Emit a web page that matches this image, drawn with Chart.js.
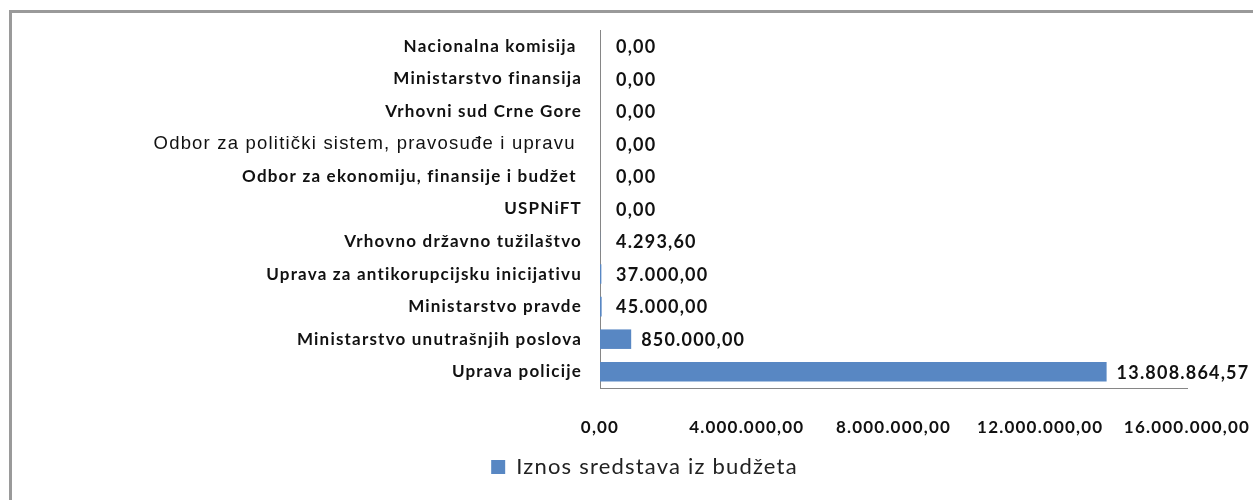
<!DOCTYPE html>
<html>
<head>
<meta charset="utf-8">
<script src="https://cdn.jsdelivr.net/npm/chart.js@4/dist/chart.umd.min.js"></script>
<style>
  html, body { margin: 0; padding: 0; background: #fff; }
  #wrap { width: 1253px; height: 500px; position: relative; }
</style>
</head>
<body>
<div id="wrap"><canvas id="chart"></canvas></div>
<script>
// categories, top to bottom (trailing spaces kept as in the source labels)
const categories = [
  'Nacionalna komisija ',
  'Ministarstvo finansija',
  'Vrhovni sud Crne Gore',
  'Odbor za politički sistem, pravosuđe i upravu ',
  'Odbor za ekonomiju, finansije i budžet ',
  'USPNiFT',
  'Vrhovno državno tužilaštvo',
  'Uprava za antikorupcijsku inicijativu',
  'Ministarstvo pravde',
  'Ministarstvo unutrašnjih poslova',
  'Uprava policije',
];
const amounts = [0, 0, 0, 0, 0, 0, 4293.60, 37000, 45000, 850000, 13808864.57];
const seriesName = 'Iznos sredstava iz budžeta';
const xTicks = [0, 4000000, 8000000, 12000000, 16000000];

const BLUE = '#5887c3';
const LABEL_FONT = { family: 'Lato', size: 17, weight: 'bold' };
const SPACING = '1.2px';

// 1234567.8 -> "1.234.567,80"
function fmt(v) {
  const parts = Math.abs(v).toFixed(2).split('.');
  const int = parts[0].replace(/\B(?=(\d{3})+(?!\d))/g, '.');
  return (v < 0 ? '-' : '') + int + ',' + parts[1];
}

// the source was rendered with loose letter spacing
const spacingPlugin = {
  id: 'spacing',
  beforeUpdate(chart) { chart.ctx.letterSpacing = SPACING; },
  beforeDraw(chart) { chart.ctx.letterSpacing = SPACING; },
};

// outer frame like the original chart object border
const framePlugin = {
  id: 'frame',
  beforeDraw(chart) {
    const ctx = chart.ctx;
    ctx.save();
    ctx.strokeStyle = '#9a9a9a';
    ctx.lineWidth = 3;
    ctx.beginPath();
    ctx.moveTo(10.5, chart.height + 5);
    ctx.lineTo(10.5, 11.5);
    ctx.lineTo(chart.width + 5, 11.5);
    ctx.stroke();
    ctx.restore();
  },
};

// value labels to the right of each bar
const valueLabels = {
  id: 'valueLabels',
  afterDatasetsDraw(chart) {
    const ctx = chart.ctx;
    const meta = chart.getDatasetMeta(0);
    const left = chart.chartArea.left;
    ctx.save();
    ctx.font = 'bold 18px Lato';
    ctx.fillStyle = '#111';
    ctx.textBaseline = 'middle';
    ctx.textAlign = 'left';
    meta.data.forEach((bar, i) => {
      const x = Math.max(bar.x + 10, left + 16);
      ctx.fillText(fmt(amounts[i]), x, bar.y + 1);
    });
    ctx.restore();
  },
};

new Chart(document.getElementById('chart'), {
  type: 'bar',
  data: {
    labels: categories,
    datasets: [{
      label: seriesName,
      data: amounts,
      backgroundColor: BLUE,
      borderWidth: 0,
      categoryPercentage: 0.6,
      barPercentage: 1,
    }],
  },
  options: {
    indexAxis: 'y',
    responsive: true,
    maintainAspectRatio: false,
    animation: false,
    layout: { padding: { left: 10, top: 30, right: -26, bottom: 12 } },
    plugins: {
      tooltip: { enabled: false },
      legend: {
        position: 'bottom',
        labels: {
          color: '#222',
          font: { family: 'Lato', size: 22 },
          boxWidth: 14,
          boxHeight: 14,
          padding: 18,
        },
      },
    },
    scales: {
      x: {
        min: 0,
        max: 16000000,
        afterBuildTicks(scale) { scale.ticks = xTicks.map(v => ({ value: v })); },
        afterFit(scale) {
          scale.height = 50;
          // last label may run to the frame edge, as in the source
          scale.paddingRight = 66;
        },
        grid: { display: false, drawTicks: false },
        border: { display: true, color: '#868686', width: 1 },
        ticks: {
          color: '#111',
          font: LABEL_FONT,
          padding: 29,
          maxRotation: 0,
          callback: (v) => fmt(v),
        },
      },
      y: {
        afterFit(scale) { scale.width = 590; },
        grid: { display: false, drawTicks: false },
        border: { display: true, color: '#868686', width: 1 },
        ticks: {
          color: '#111',
          padding: 18,
          autoSkip: false,
          font: (c) => c.index === 3
            ? { family: 'Liberation Sans', size: 18.5, weight: 'normal' }
            : LABEL_FONT,
        },
      },
    },
  },
  plugins: [spacingPlugin, framePlugin, valueLabels],
});
</script>
</body>
</html>
